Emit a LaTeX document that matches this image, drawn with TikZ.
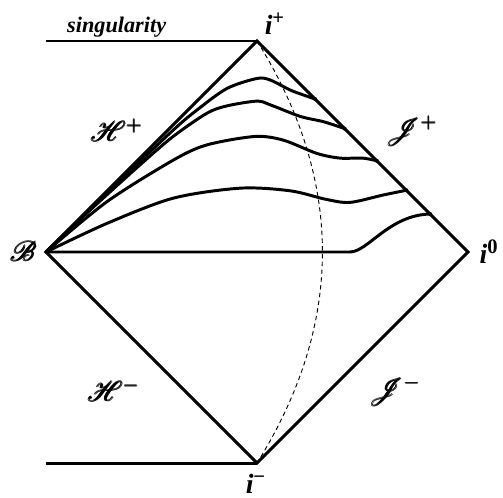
\documentclass[tikz,border=0pt]{standalone}
\usepackage{amsmath}
\usepackage{mathptmx}
\usepackage{fontspec}
\setmainfont{Liberation Serif}
\usepackage{tikz}
\usetikzlibrary{positioning,calc}
\tikzset{
  bdry/.style={line width=1.6pt,line join=miter},
  slice/.style={line width=1.6pt,line cap=round},
  ray/.style={line width=0.5pt,dash pattern=on 2.4pt off 1.8pt},
  lbl/.style={font=\fontsize{15}{17}\selectfont,inner sep=0pt},
}

\begin{document}
\begin{tikzpicture}
  \useasboundingbox (-4.872,-4.645) rectangle (4.663,4.777);
  \coordinate (ip) at (0,4);
  \coordinate (im) at (0,-4);
  \coordinate (bb) at (-4,0);
  \coordinate (io) at (4,0);
  % conformal boundary
  \draw[bdry] (bb) -- (ip) -- (io) -- (im) -- cycle;
  \draw[bdry] (-4,4) -- (ip);
  \draw[bdry] (-4,-4) -- (im);
  % slices ending on scri+
  \draw[slice] plot[smooth] coordinates {(-4,0) (-2.6,1.35) (-1.59,2.31) (-1.14,2.69) (-0.57,3.10) (0,3.29) (0.25,3.26) (0.63,3.07) (0.87,2.98) (1.1,2.9)};
  \draw[slice] plot[smooth] coordinates {(-4,0) (-3.2,0.76) (-2.22,1.65) (-1.59,2.19) (-0.95,2.63) (-0.57,2.77) (0,2.86) (0.25,2.79) (0.82,2.57) (1.26,2.47) (1.66,2.34)};
  \draw[slice] plot[smooth] coordinates {(-4,0) (-2.85,0.95) (-1.59,1.74) (-0.95,2.03) (-0.04,2.19) (0.5,2.12) (1.13,1.87) (1.57,1.78) (2.0,1.78) (2.27,1.73)};
  \draw[slice] plot[smooth] coordinates {(-4,0) (-2.85,0.54) (-1.59,1.02) (-0.32,1.21) (0.63,1.16) (1.3,1.0) (1.76,0.94) (2.39,1.08) (2.83,1.17)};
  \draw[slice] (bb) -- (1.76,0) .. controls (2.1,0) and (2.5,0.7) .. (3.28,0.72);
  \foreach \p in {(1.1,2.9),(1.66,2.34),(2.27,1.73),(2.83,1.17),(3.28,0.72)}
    \fill \p circle (1.1pt);
  % light ray
  \draw[ray] (ip) to[bend left=32] (im);
  % labels
  \node[font=\fontsize{12}{14}\selectfont\bfseries\itshape] (sing) at (-2.66,4.27) {singularity};
  \node[lbl] (lip) at (0.34,4.32) {\textbf{\textit{i}\textsuperscript{+}}};
  \node[lbl] (lio) at (4.40,0) {\textbf{\textit{i}\textsuperscript{0}}};
  \node[lbl] (lim) at (-0.02,-4.40) {\textbf{\textit{i}\textsuperscript{−}}};
  \node[lbl] (lb) at (-4.42,0.02) {$\pmb{\mathcal{B}}$};
  \node[lbl] (hp) at (-2.65,2.31) {$\pmb{\mathcal{H}}^{\pmb{+}}$};
  \node[lbl] (sp) at (2.94,2.29) {$\pmb{\mathcal{J}}^{\pmb{+}}$};
  \node[lbl] (hm) at (-2.71,-2.62) {$\pmb{\mathcal{H}}^{\pmb{-}}$};
  \node[lbl] (sm) at (2.62,-2.64) {$\pmb{\mathcal{J}}^{\pmb{-}}$};
\end{tikzpicture}
\end{document}
